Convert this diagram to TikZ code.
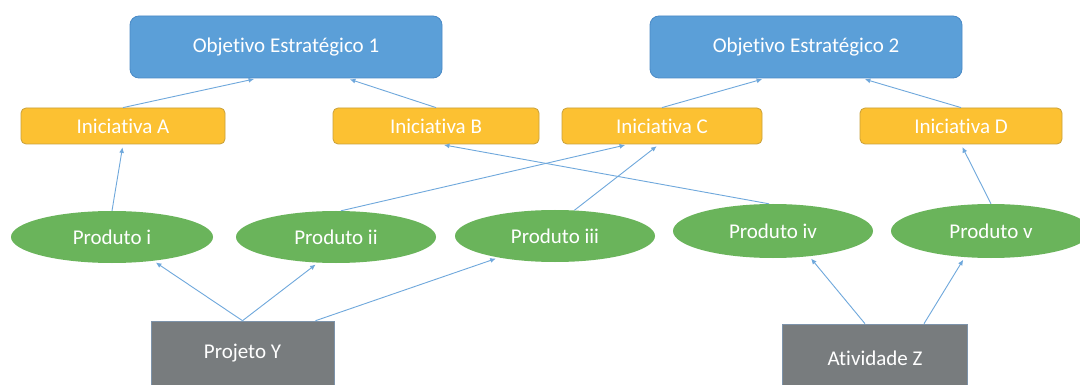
\documentclass[tikz,border=0pt]{standalone}
\usepackage{fontspec}
\setmainfont{Carlito}[Ligatures={NoCommon}]
\usetikzlibrary{shapes.geometric,arrows.meta}

\definecolor{objblue}{HTML}{5B9FD8}
\definecolor{objedge}{HTML}{4A8AC6}
\definecolor{inigold}{HTML}{FCC132}
\definecolor{iniedge}{HTML}{C9A03A}
\definecolor{prodgreen}{HTML}{6AB45B}
\definecolor{workgray}{HTML}{787C7E}
\definecolor{workedge}{HTML}{7D93AA}
\definecolor{linkblue}{HTML}{6FA8DC}

\tikzset{
  label text/.style={text=white, font=\fontsize{21}{25}\selectfont},
  objbox/.style={label text, draw=objedge, line width=0.8pt, fill=objblue,
    rounded corners=9pt, minimum width=312pt, minimum height=62pt, inner sep=0pt},
  inibox/.style={label text, draw=iniedge, line width=0.8pt, fill=inigold,
    rounded corners=5pt, minimum height=36pt, inner sep=0pt},
  prodshape/.style={label text, ellipse, fill=prodgreen, draw=none,
    minimum width=200pt, inner sep=0pt},
  workbox/.style={label text, draw=workedge, line width=0.6pt, fill=workgray,
    inner sep=0pt},
  link/.style={draw=linkblue, line width=0.9pt, shorten >=3pt,
    -{Latex[length=5.5pt,width=5pt]}}
}

\begin{document}
\begin{tikzpicture}[x=1pt, y=-1pt]
  \useasboundingbox[fill=white] (0,0) rectangle (1080,385);

  % strategic objectives
  \node[objbox] (obj1) at (286,47) {Objetivo Estratégico 1};
  \node[objbox] (obj2) at (806,47) {Objetivo Estratégico 2};

  % initiatives
  \node[inibox, minimum width=204pt] (iniA) at (123,126) {Iniciativa A};
  \node[inibox, minimum width=206pt] (iniB) at (436,126) {Iniciativa B};
  \node[inibox, minimum width=200pt] (iniC) at (662,126) {Iniciativa C};
  \node[inibox, minimum width=202pt] (iniD) at (961,126) {Iniciativa D};

  % products
  \node[prodshape, minimum width=202pt, minimum height=52pt] (p1) at (112,237) {Produto i};
  \node[prodshape, minimum height=52pt] (p2) at (336,237) {Produto ii};
  \node[prodshape, minimum height=52pt] (p3) at (555,236) {Produto iii};
  \node[prodshape, minimum height=54pt] (p4) at (773,231) {Produto iv};
  \node[prodshape, minimum height=54pt] (p5) at (991,231) {Produto v};

  % project and activity
  \node[workbox, minimum width=183pt, minimum height=64pt] (projY) at (242.5,353) {Projeto Y};
  \node[workbox, minimum width=185pt, minimum height=68pt] (actZ) at (875,358) {Atividade Z};

  % initiatives -> objectives
  \draw[link] (iniA.north) -- ([xshift=-29pt]obj1.south);
  \draw[link] (iniB.north) -- ([xshift=61pt]obj1.south);
  \draw[link] (iniC.north) -- ([xshift=-41pt]obj2.south);
  \draw[link] (iniD.north) -- ([xshift=56pt]obj2.south);

  % products -> initiatives
  \draw[link] (p1.north) -- (iniA.south);
  \draw[link] ([xshift=5pt]p2.north) -- ([xshift=-34pt]iniC.south);
  \draw[link] (p3.53) -- ([xshift=-3pt]iniC.south);
  \draw[link] ([xshift=-4pt]p4.north) -- ([xshift=5pt]iniB.south);
  \draw[link] (p5.north) -- (iniD.south);

  % project / activity -> products
  \draw[link] (projY.north) -- (p1.-30);
  \draw[link] (projY.north) -- (p2.-125);
  \draw[link] ([xshift=73pt]projY.north) -- (p3.-159);
  \draw[link] ([xshift=-10pt]actZ.north) -- (p4.-35);
  \draw[link] ([xshift=49pt]actZ.north) -- (p5.-135);
\end{tikzpicture}
\end{document}
